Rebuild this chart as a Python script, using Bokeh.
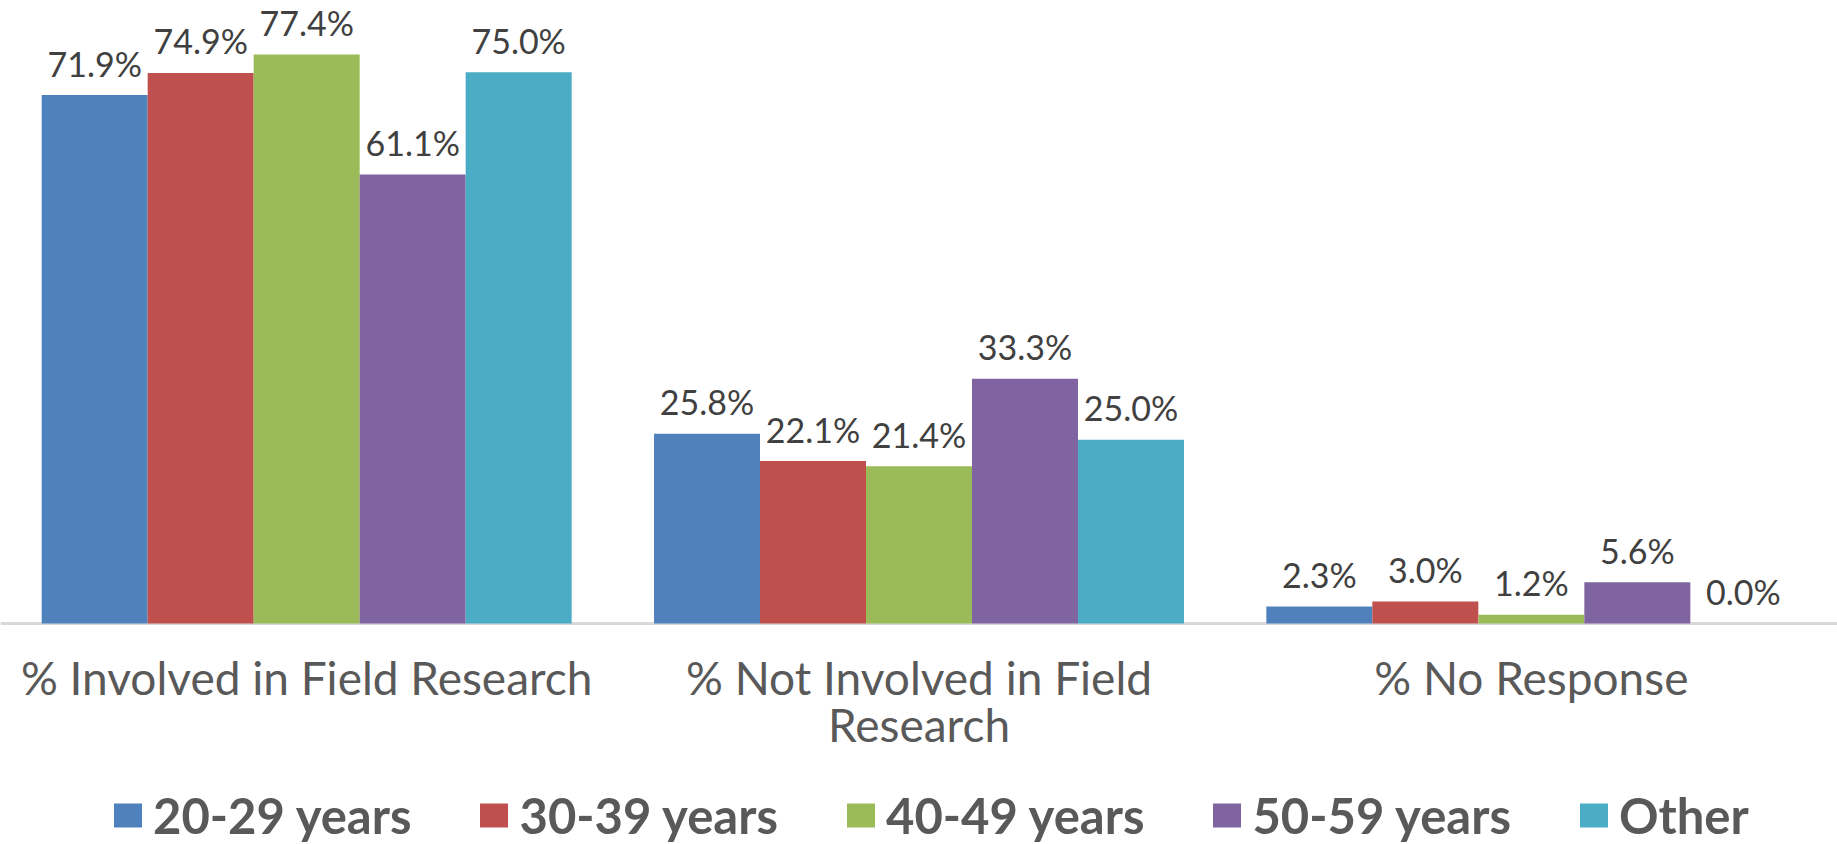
from bokeh.plotting import figure
from bokeh.models import FactorRange, Range1d, Legend, LegendItem, ColumnDataSource, Span
from bokeh.transform import dodge
from bokeh.core.properties import value
from bokeh.embed import file_html
from bokeh.resources import INLINE

categories = ["% Involved in Field Research", "% Not Involved in Field Research", "% No Response"]
category_labels = ["% Involved in Field Research", "% Not Involved in Field\nResearch", "% No Response"]
series = ["20-29 years", "30-39 years", "40-49 years", "50-59 years", "Other"]
v_20_29 = [71.9, 25.8, 2.3]
v_30_39 = [74.9, 22.1, 3.0]
v_40_49 = [77.4, 21.4, 1.2]
v_50_59 = [61.1, 33.3, 5.6]
v_other = [75.0, 25.0, 0.0]
colors = ["#4f81bd", "#c0504d", "#9bbb59", "#8064a2", "#4bacc6"]

values = [v_20_29, v_30_39, v_40_49, v_50_59, v_other]

FONT = "Lato"
W, H = 1837, 844
BASE = 623          # pixel row of the zero line (from figure top)
PX_PER_PCT = 7.35
p = figure(x_range=FactorRange(*categories),
           y_range=Range1d(-(H - BASE) / PX_PER_PCT, BASE / PX_PER_PCT),
           frame_width=W, frame_height=H, output_backend="svg", toolbar_location=None,
           min_border=0)
p.xaxis.visible = False
p.yaxis.visible = False
p.xgrid.visible = False
p.ygrid.visible = False
p.outline_line_color = None

# zero line (category axis line)
p.add_layout(Span(location=0, dimension="width", line_color="#d9d9d9", line_width=3, level="underlay"))

bw = 0.1731
offsets = [-2 * bw, -bw, 0, bw, 2 * bw]
items = []
for s, vals, col, off in zip(series, values, colors, offsets):
    src = ColumnDataSource(dict(cat=categories, val=vals, lab=[f"{v:.1f}%" for v in vals]))
    r = p.vbar(x=dodge("cat", off, range=p.x_range), top="val", bottom=0, width=bw,
               source=src, fill_color=col, line_color=None)
    p.text(x=dodge("cat", off, range=p.x_range), y="val", text="lab", source=src,
           text_align="center", text_baseline="middle", y_offset=-32,
           text_font=value(FONT), text_font_size="34px", text_color="#404040")
    items.append(LegendItem(label=s, renderers=[r]))

# category labels
csrc = ColumnDataSource(dict(cat=categories, y=[0, 0, 0], lab=category_labels))
p.text(x="cat", y="y", text="lab", source=csrc, text_align="center", text_baseline="top",
       y_offset=26, text_font=value(FONT), text_font_size="46px", text_color="#595959",
       text_line_height=0.87)

legend = Legend(items=items, orientation="horizontal", location=(110, 0),
                label_text_font=FONT, label_text_font_size="49px", label_text_font_style="bold",
                label_text_color="#595959", glyph_width=35, glyph_height=30,
                label_standoff=8, spacing=65, border_line_color=None,
                background_fill_alpha=0, padding=0, margin=0)
p.add_layout(legend, "center")

open("out.html", "w").write(file_html(p, INLINE))
